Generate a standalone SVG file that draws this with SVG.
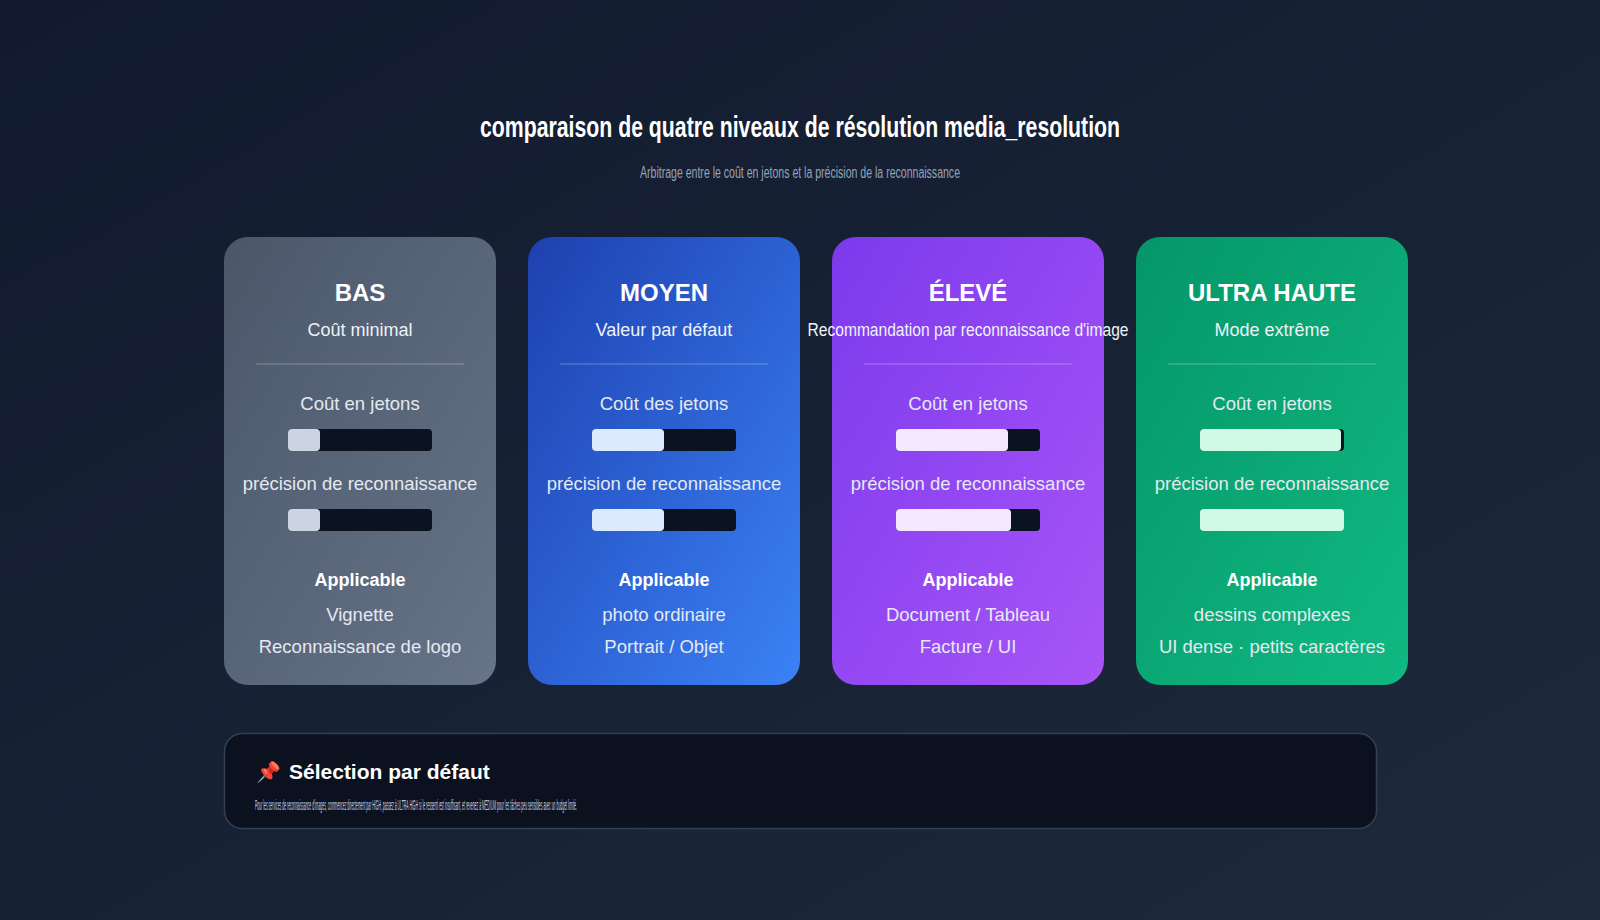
<svg xmlns="http://www.w3.org/2000/svg" width="1600" height="920" viewBox="0 0 1600 920">
<defs>
<linearGradient id="bg" x1="0" y1="0" x2="1" y2="1"><stop offset="0" stop-color="#111a2e"/><stop offset="1" stop-color="#1e293b"/></linearGradient>
<linearGradient id="g1" x1="0" y1="0" x2="1" y2="1"><stop offset="0" stop-color="#4b5769"/><stop offset="1" stop-color="#677489"/></linearGradient>
<linearGradient id="g2" x1="0" y1="0" x2="1" y2="1"><stop offset="0" stop-color="#1e40af"/><stop offset="1" stop-color="#3b82f6"/></linearGradient>
<linearGradient id="g3" x1="0" y1="0" x2="1" y2="1"><stop offset="0" stop-color="#7c3aed"/><stop offset="1" stop-color="#a855f7"/></linearGradient>
<linearGradient id="g4" x1="0" y1="0" x2="1" y2="1"><stop offset="0" stop-color="#059669"/><stop offset="1" stop-color="#10b981"/></linearGradient>
</defs>
<style>
text{font-family:"Liberation Sans","DejaVu Sans",sans-serif;text-anchor:middle;fill:#fff}
.t{font-size:24px;font-weight:bold}
.s{font-size:18px;fill:#eef2f7}
.l{font-size:18.5px;fill:#e5e9f0}
.a{font-size:18px;font-weight:bold}
.track{fill:#0b1220}
.div{stroke:#ffffff;stroke-opacity:0.3;stroke-width:1}
</style>
<rect width="1600" height="920" fill="url(#bg)"/>
<text x="800" y="137" font-size="30" font-weight="bold" textLength="640" lengthAdjust="spacingAndGlyphs">comparaison de quatre niveaux de résolution media_resolution</text>
<text x="800" y="178" font-size="16" fill="#94a3b8" style="fill:#94a3b8" textLength="320" lengthAdjust="spacingAndGlyphs">Arbitrage entre le coût en jetons et la précision de la reconnaissance</text>

<g id="card-bas">
<rect x="224" y="237" width="272" height="448" rx="24" fill="url(#g1)"/>
<text class="t" x="360" y="301">BAS</text>
<text class="s" x="360" y="336">Coût minimal</text>
<line class="div" x1="256" y1="364" x2="464" y2="364"/>
<text class="l" x="360" y="410">Coût en jetons</text>
<rect class="track" x="288" y="429" width="144" height="22" rx="4"/><rect x="288" y="429" width="32" height="22" rx="4" fill="#cbd5e1"/>
<text class="l" x="360" y="490">précision de reconnaissance</text>
<rect class="track" x="288" y="509" width="144" height="22" rx="4"/><rect x="288" y="509" width="32" height="22" rx="4" fill="#cbd5e1"/>
<text class="a" x="360" y="586">Applicable</text>
<text class="l" x="360" y="621">Vignette</text>
<text class="l" x="360" y="653">Reconnaissance de logo</text>
</g>
<g id="card-moyen">
<rect x="528" y="237" width="272" height="448" rx="24" fill="url(#g2)"/>
<text class="t" x="664" y="301">MOYEN</text>
<text class="s" x="664" y="336">Valeur par défaut</text>
<line class="div" x1="560" y1="364" x2="768" y2="364"/>
<text class="l" x="664" y="410">Coût des jetons</text>
<rect class="track" x="592" y="429" width="144" height="22" rx="4"/><rect x="592" y="429" width="72" height="22" rx="4" fill="#dbeafe"/>
<text class="l" x="664" y="490">précision de reconnaissance</text>
<rect class="track" x="592" y="509" width="144" height="22" rx="4"/><rect x="592" y="509" width="72" height="22" rx="4" fill="#dbeafe"/>
<text class="a" x="664" y="586">Applicable</text>
<text class="l" x="664" y="621">photo ordinaire</text>
<text class="l" x="664" y="653">Portrait / Objet</text>
</g>
<g id="card-eleve">
<rect x="832" y="237" width="272" height="448" rx="24" fill="url(#g3)"/>
<text class="t" x="968" y="301">ÉLEVÉ</text>
<text class="s" x="968" y="336" textLength="321" lengthAdjust="spacingAndGlyphs">Recommandation par reconnaissance d'image</text>
<line class="div" x1="864" y1="364" x2="1072" y2="364"/>
<text class="l" x="968" y="410">Coût en jetons</text>
<rect class="track" x="896" y="429" width="144" height="22" rx="4"/><rect x="896" y="429" width="112" height="22" rx="4" fill="#f3e8ff"/>
<text class="l" x="968" y="490">précision de reconnaissance</text>
<rect class="track" x="896" y="509" width="144" height="22" rx="4"/><rect x="896" y="509" width="115" height="22" rx="4" fill="#f3e8ff"/>
<text class="a" x="968" y="586">Applicable</text>
<text class="l" x="968" y="621">Document / Tableau</text>
<text class="l" x="968" y="653">Facture / UI</text>
</g>
<g id="card-ultra">
<rect x="1136" y="237" width="272" height="448" rx="24" fill="url(#g4)"/>
<text class="t" x="1272" y="301">ULTRA HAUTE</text>
<text class="s" x="1272" y="336">Mode extrême</text>
<line class="div" x1="1168" y1="364" x2="1376" y2="364"/>
<text class="l" x="1272" y="410">Coût en jetons</text>
<rect class="track" x="1200" y="429" width="144" height="22" rx="4"/><rect x="1200" y="429" width="141" height="22" rx="4" fill="#d1fae5"/>
<text class="l" x="1272" y="490">précision de reconnaissance</text>
<rect x="1200" y="509" width="144" height="22" rx="4" fill="#d1fae5"/>
<text class="a" x="1272" y="586">Applicable</text>
<text class="l" x="1272" y="621">dessins complexes</text>
<text class="l" x="1272" y="653">UI dense · petits caractères</text>
</g>
<g id="note">
<rect x="224.5" y="733.5" width="1152" height="95" rx="18" fill="#0b111e" stroke="#334155" stroke-width="1.5"/>
<text x="268" y="779" font-size="20" style="text-anchor:middle">📌</text>
<text x="289" y="779" font-size="21" font-weight="bold" style="text-anchor:start">Sélection par défaut</text>
<text x="255" y="810" font-size="14" fill="#cbd5e1" style="text-anchor:start;fill:#cbd5e1" textLength="322" lengthAdjust="spacingAndGlyphs">Pour les services de reconnaissance d'images, commencez directement par HIGH, passez à ULTRA HIGH si le ressenti est insuffisant, et revenez à MEDIUM pour les tâches peu sensibles avec un budget limité.</text>
</g>
</svg>
